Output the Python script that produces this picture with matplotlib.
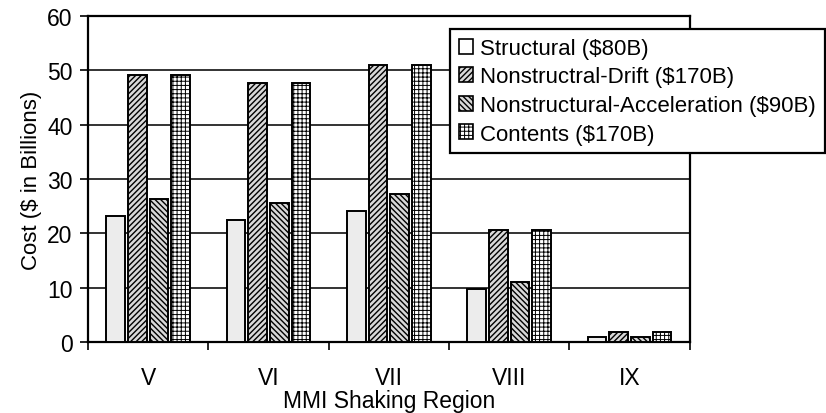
import numpy as np
import matplotlib
matplotlib.use("Agg")
import matplotlib.pyplot as plt

plt.rcParams['font.family'] = ['Liberation Sans', 'DejaVu Sans']

regions = ["V", "VI", "VII", "VIII", "IX"]
structural = [23.2, 22.5, 24.1, 9.8, 0.9]
drift = [49.2, 47.6, 50.9, 20.6, 1.9]
acceleration = [26.3, 25.5, 27.3, 11.0, 0.9]
contents = [49.2, 47.6, 50.9, 20.6, 1.9]

# label, values, face colour, hatch, hatch line width
series = [
    (r"Structural (\$80B)", structural, "#ececec", "", 1.0),
    (r"Nonstructral-Drift (\$170B)", drift, "#d8d8d8", "//////", 1.0),
    (r"Nonstructural-Acceleration (\$90B)", acceleration, "#d8d8d8", "\\\\\\\\\\\\", 1.0),
    (r"Contents (\$170B)", contents, "white", "++++", 0.7),
]

fig = plt.figure(figsize=(8.26, 4.14), dpi=100)
ax = fig.add_axes([0.1065, 0.1715, 0.7285, 0.7875])

x = np.arange(len(regions))
step = 0.18
width = 0.155
handles = []
for i, (label, vals, fc, hatch, hlw) in enumerate(series):
    offs = (i - 1.5) * step
    with plt.rc_context({"hatch.linewidth": hlw}):
        bars = ax.bar(x + offs, vals, width=width, facecolor=fc, edgecolor="black",
                      linewidth=1.4, hatch=hatch, label=label, zorder=3)
    for b in bars:
        if hasattr(b, "set_hatch_linewidth"):
            b.set_hatch_linewidth(hlw)
    handles.append(bars)

ax.set_xlim(-0.5, len(regions) - 0.5)
ax.set_ylim(0, 60)
ax.set_yticks(np.arange(0, 61, 10))
ax.yaxis.grid(True, color="#333333", linewidth=1.4, zorder=0)
ax.set_axisbelow(True)

ax.set_xticks(x)
ax.set_xticklabels(regions)
ax.set_xticks(np.arange(-0.5, len(regions), 1.0), minor=True)
ax.tick_params(axis="x", which="major", length=0, pad=17, labelsize=16.5)
ax.tick_params(axis="x", which="minor", length=6, width=1.2, direction="out")
ax.tick_params(axis="y", length=6, width=1.2, direction="out", pad=5, labelsize=16.5)

for s in ax.spines.values():
    s.set_linewidth(1.6)
    s.set_color("black")

ax.set_ylabel(r"Cost (\$ in Billions)", fontsize=16, labelpad=4)
ax.set_xlabel("MMI Shaking Region", fontsize=16.5, labelpad=0)

leg = fig.legend(handles=handles, loc="upper left",
                 bbox_to_anchor=(450 / 826, 1 - 30 / 414),
                 fontsize=16, frameon=True, fancybox=False, framealpha=1,
                 edgecolor="black", handlelength=0.65, handleheight=0.65,
                 handletextpad=0.3, labelspacing=0.34, borderpad=0.4,
                 borderaxespad=0)
leg.get_frame().set_linewidth(1.6)
for h, (_, _, _, _, hlw) in zip(leg.legend_handles, series):
    h.set_linewidth(1.2)
    if hasattr(h, "set_hatch_linewidth"):
        h.set_hatch_linewidth(hlw)
leg.legend_handles[0].set_facecolor("white")

fig.savefig("out.png", dpi=100)
